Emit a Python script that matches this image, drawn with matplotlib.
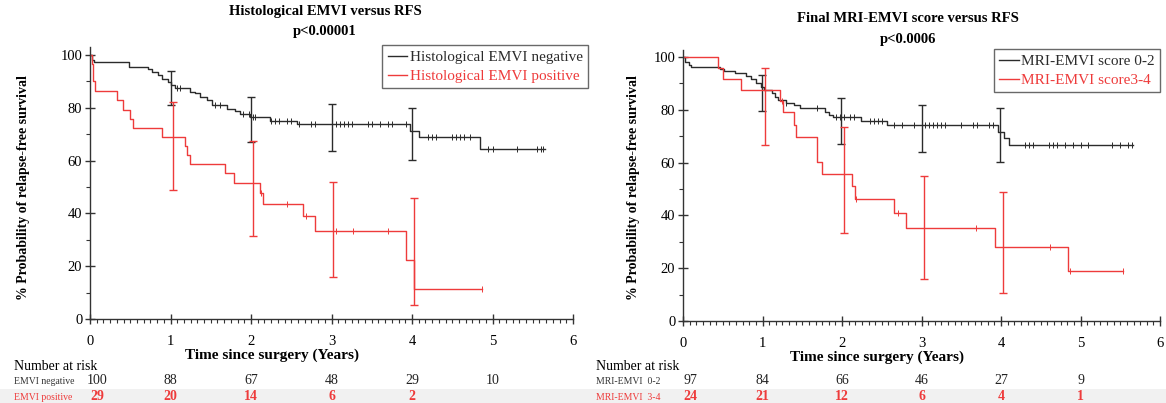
import numpy as np
import matplotlib
matplotlib.use("Agg")
import matplotlib.pyplot as plt
from matplotlib.ticker import MultipleLocator
from matplotlib.patches import Rectangle

plt.rcParams['font.family'] = ['Liberation Serif', 'DejaVu Serif']

# ---------------- data ----------------
# Left: Histological EMVI
neg_t = [0, 0.02, 0.05, 0.49, 0.72, 0.77, 0.85, 0.89, 0.97, 1.01, 1.06, 1.24, 1.30, 1.37, 1.45,
         1.51, 1.70, 1.80, 1.86, 1.99, 2.24, 2.57, 3.97, 4.09, 4.84, 5.65]
neg_s = [100, 98.1, 97.3, 95.3, 94.6, 93.6, 92.4, 90.8, 89.6, 88.6, 87.4, 86.1, 85.5, 84.2, 83.0,
         80.9, 79.6, 78.6, 77.6, 76.6, 75.0, 73.9, 71.2, 68.8, 64.3, 64.3]
pos_t = [0, 0.02, 0.04, 0.06, 0.34, 0.41, 0.50, 0.53, 0.90, 1.18, 1.21, 1.24, 1.68, 1.79, 2.11,
         2.15, 2.64, 2.80, 3.93, 4.02, 4.87]
pos_s = [100, 96.5, 90.0, 86.2, 82.8, 79.3, 75.9, 72.4, 69.0, 65.5, 62.1, 58.6, 55.2, 51.7, 47.6,
         43.5, 39.1, 33.5, 22.3, 11.2, 11.2]
neg_cens = [1.0, 1.08, 1.12, 1.55, 1.62, 1.9, 1.98, 2.02, 2.05, 2.25, 2.3, 2.35, 2.45, 2.5, 2.6,
            2.75, 2.8, 3.0, 3.05, 3.1, 3.15, 3.2, 3.25, 3.45, 3.5, 3.6, 3.7, 3.75, 3.92, 4.2, 4.25,
            4.3, 4.5, 4.55, 4.6, 4.65, 4.72, 4.95, 5.0, 5.3, 5.55, 5.6, 5.63]
pos_cens = [2.13, 2.45, 2.68, 3.05, 3.27, 3.7, 4.87]
neg_err_x = [1.0, 2.0, 3.0, 4.0]
neg_err_lo = [81.0, 67.0, 63.5, 60.2]
neg_err_hi = [94.0, 84.0, 81.5, 80.0]
pos_err_x = [1.03, 2.03, 3.02, 4.03]
pos_err_lo = [48.9, 31.6, 16.0, 5.3]
pos_err_hi = [82.3, 67.4, 51.8, 45.7]

# Right: MRI-EMVI score
lo_t = [0, 0.03, 0.07, 0.10, 0.46, 0.52, 0.65, 0.79, 0.85, 0.92, 0.98, 1.02, 1.12, 1.16, 1.20,
        1.29, 1.39, 1.47, 1.79, 1.84, 1.89, 2.24, 2.56, 3.96, 4.04, 4.10, 5.66]
lo_s = [100, 98.0, 97.0, 96.4, 95.5, 94.7, 94.0, 92.9, 91.5, 90.0, 88.8, 87.5, 86.2, 85.0, 83.7,
        82.5, 81.8, 80.8, 79.3, 78.0, 77.4, 75.8, 74.2, 71.5, 69.2, 66.7, 66.7]
hi_t = [0, 0.44, 0.50, 0.73, 1.22, 1.26, 1.39, 1.42, 1.68, 1.75, 2.12, 2.16, 2.65, 2.80, 3.92,
        4.84, 5.53]
hi_s = [100, 95.8, 91.7, 87.5, 83.3, 79.2, 74.2, 69.6, 60.3, 55.7, 51.1, 46.1, 41.0, 35.1, 28.2,
        19.1, 19.1]
lo_cens = [1.3, 1.68, 1.93, 1.98, 2.02, 2.1, 2.15, 2.35, 2.4, 2.45, 2.5, 2.65, 2.75, 2.9, 3.05,
           3.1, 3.15, 3.2, 3.25, 3.3, 3.5, 3.65, 3.7, 3.85, 3.9, 4.3, 4.35, 4.4, 4.6, 4.65, 4.7,
           4.8, 4.9, 5.0, 5.1, 5.4, 5.5, 5.6, 5.65]
hi_cens = [1.25, 2.18, 2.7, 3.68, 4.62, 4.87, 5.53]
lo_err_x = [0.99, 1.99, 3.01, 3.99]
lo_err_lo = [79.5, 67.0, 64.1, 60.3]
lo_err_hi = [93.2, 84.6, 82.0, 80.5]
hi_err_x = [1.03, 2.03, 3.03, 4.02]
hi_err_lo = [66.7, 33.2, 15.8, 10.5]
hi_err_hi = [96.0, 73.6, 55.0, 49.0]

risk_times = [0, 1, 2, 3, 4, 5]
risk_neg = ["100", "88", "67", "48", "29", "10"]
risk_pos = ["29", "20", "14", "6", "2", ""]
risk_lo = ["97", "84", "66", "46", "27", "9"]
risk_hi = ["24", "21", "12", "6", "4", "1"]

BLACK = "#2b2b2b"
RED = "#ee3b3b"

W, H = 1166, 403
fig = plt.figure(figsize=(W / 100, H / 100), dpi=100)

# light grey band at the bottom
fig.patches.append(Rectangle((0, 0), 1, 14 / H, transform=fig.transFigure,
                             facecolor="#f1f1f1", edgecolor="none", zorder=0))


def step_val(t, s, x):
    idx = np.searchsorted(np.asarray(t), x, side="right") - 1
    return np.asarray(s)[idx]


def draw_panel(ax, curves, ylim_top):
    for t, s, cens, ex, elo, ehi, col, lab in curves:
        ax.step(t, s, where="post", color=col, lw=1.0, label=lab)
        ax.plot(cens, step_val(t, s, cens), ls="none", marker="|", ms=4, mew=0.7, color=col)
        ex = np.asarray(ex)
        elo = np.asarray(elo)
        ehi = np.asarray(ehi)
        ax.vlines(ex, elo, ehi, color=col, lw=1.0)
        ax.plot(ex, elo, ls="none", marker="_", ms=6, mew=1.0, color=col)
        ax.plot(ex, ehi, ls="none", marker="_", ms=6, mew=1.0, color=col)
    ax.set_xlim(0, 6)
    ax.set_ylim(0, ylim_top)
    ax.spines["top"].set_visible(False)
    ax.spines["right"].set_visible(False)
    for sp in ("left", "bottom"):
        ax.spines[sp].set_color("#333333")
        ax.spines[sp].set_linewidth(1.0)
    ax.xaxis.set_major_locator(MultipleLocator(1))
    ax.xaxis.set_minor_locator(MultipleLocator(1 / 12))
    ax.yaxis.set_major_locator(MultipleLocator(20))
    ax.yaxis.set_minor_locator(MultipleLocator(10))
    ax.tick_params(which="major", direction="inout", length=7, width=1.0, color="#333333",
                   labelsize=10.5)
    ax.tick_params(axis="x", which="major", pad=8)
    ax.tick_params(axis="y", which="major", pad=2)
    ax.tick_params(which="minor", direction="out", length=3, width=0.8, color="#333333")
    ax.set_yticks([0, 20, 40, 60, 80, 100])
    ax.patch.set_alpha(0)


def fx(px):
    return px / W


def fy(py):
    return 1 - py / H


# ---------- left panel ----------
axL = fig.add_axes([fx(90), fy(319), fx(573 - 90), (319 - 47) / H])
draw_panel(axL, [
    (neg_t, neg_s, neg_cens, neg_err_x, neg_err_lo, neg_err_hi, BLACK, "Histological EMVI negative"),
    (pos_t, pos_s, pos_cens, pos_err_x, pos_err_lo, pos_err_hi, RED, "Histological EMVI positive"),
], (319 - 47) / 2.64)

# ---------- right panel ----------
axR = fig.add_axes([fx(683), fy(321), fx(1160 - 683), (321 - 50) / H])
draw_panel(axR, [
    (lo_t, lo_s, lo_cens, lo_err_x, lo_err_lo, lo_err_hi, BLACK, "MRI-EMVI score 0-2"),
    (hi_t, hi_s, hi_cens, hi_err_x, hi_err_lo, hi_err_hi, RED, "MRI-EMVI score3-4"),
], (321 - 50) / 2.64)

# legends
for ax, right_px, top_px in ((axL, 588, 45), (axR, 1160, 49)):
    leg = ax.legend(loc="upper right", bbox_to_anchor=(fx(right_px), fy(top_px)),
                    bbox_transform=fig.transFigure, borderaxespad=0, fancybox=False,
                    frameon=True, edgecolor="#444444", fontsize=11, handlelength=1.3,
                    handletextpad=0.15, labelcolor="linecolor", borderpad=0.35,
                    labelspacing=0.35)
    leg.get_frame().set_linewidth(1.0)

# titles
fig.text(fx(325), fy(12), "Histological EMVI versus RFS", ha="center", va="center",
         fontsize=10.5, fontweight="bold")
fig.text(fx(325), fy(32), "p<0.00001", ha="center", va="center", fontsize=10.5,
         fontweight="bold")
fig.text(fx(908), fy(18), "Final MRI-EMVI score versus RFS", ha="center", va="center",
         fontsize=10.5, fontweight="bold")
fig.text(fx(908), fy(40), "p<0.0006", ha="center", va="center", fontsize=10.5,
         fontweight="bold")

# axis labels
for xpx in (24, 633):
    fig.text(fx(xpx), fy(188), "% Probability of relapse-free survival", rotation=90,
             ha="center", va="center", fontsize=10, fontweight="bold")
fig.text(fx(272), fy(355), "Time since surgery (Years)", ha="center", va="center",
         fontsize=11, fontweight="bold")
fig.text(fx(877), fy(357), "Time since surgery (Years)", ha="center", va="center",
         fontsize=11, fontweight="bold")

# number at risk tables
fig.text(fx(14), fy(366), "Number at risk", ha="left", va="center", fontsize=10)
fig.text(fx(14), fy(381), "EMVI negative", ha="left", va="center", fontsize=7, color="#333333")
fig.text(fx(14), fy(397), "EMVI positive", ha="left", va="center", fontsize=7, color=RED)
fig.text(fx(596), fy(367), "Number at risk", ha="left", va="center", fontsize=10)
fig.text(fx(596), fy(381), "MRI-EMVI  0-2", ha="left", va="center", fontsize=7, color="#333333")
fig.text(fx(596), fy(397), "MRI-EMVI  3-4", ha="left", va="center", fontsize=7, color=RED)

for ax, row1, row2, y1, y2 in ((axL, risk_neg, risk_pos, 381, 397),
                               (axR, risk_lo, risk_hi, 381, 397)):
    for t, a, b in zip(risk_times, row1, row2):
        xf = fig.transFigure.inverted().transform(ax.transData.transform((t, 0)))[0]
        off = 0.006 if t == 0 else 0
        fig.text(xf + off, fy(y1), a, ha="center", va="center",
                 fontsize=10, color="#222222")
        fig.text(xf + off, fy(y2), b, ha="center", va="center",
                 fontsize=10, color=RED, fontweight="bold")

fig.savefig("out.png", dpi=100)
